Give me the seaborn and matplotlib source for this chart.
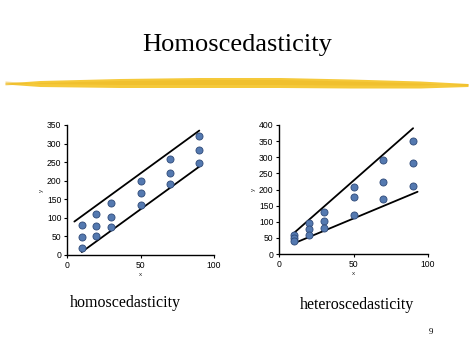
import numpy as np
import pandas as pd
import matplotlib
matplotlib.use("Agg")
import matplotlib.pyplot as plt
import seaborn as sns

# ---- data ----
x_vals = [10, 10, 10, 20, 20, 20, 30, 30, 30, 50, 50, 50, 70, 70, 70, 90, 90, 90]
homo_y = [80, 48, 20, 110, 78, 50, 140, 103, 76, 200, 168, 135, 258, 222, 192, 320, 282, 248]
hetero_y = [58, 50, 40, 95, 78, 58, 130, 102, 82, 208, 176, 122, 290, 222, 172, 350, 282, 210]

homo_upper_x = [5, 90]
homo_upper_y = [90, 335]
homo_lower_x = [10, 90]
homo_lower_y = [8, 238]
hetero_upper_x = [10, 90]
hetero_upper_y = [65, 390]
hetero_lower_x = [10, 93]
hetero_lower_y = [33, 193]

x_ticks = [0, 50, 100]
homo_yticks = [0, 50, 100, 150, 200, 250, 300, 350]
hetero_yticks = [0, 50, 100, 150, 200, 250, 300, 350, 400]

title = "Homoscedasticity"
captions = ["homoscedasticity", "heteroscedasticity"]
page_no = "9"

sns.set_style("white")
plt.rcParams['font.family'] = ['Liberation Sans', 'DejaVu Sans']

fig = plt.figure(figsize=(4.74, 3.55), dpi=100)
fig.patch.set_facecolor("white")

# yellow brush stroke
bx = fig.add_axes([0, 0, 1, 1], zorder=0)
bx.set_xlim(0, 474)
bx.set_ylim(355, 0)
bx.axis("off")
xs = np.array([5, 40, 120, 200, 280, 350, 420, 468])
ytop = np.array([83, 80.5, 78.5, 77.5, 77.5, 79, 81, 83.5])
ybot = np.array([84, 86.5, 87.5, 87.5, 87.5, 88, 88, 86.5])
bx.fill_between(xs, ytop, ybot, color="#F5C93A", lw=0)
bx.fill_between(xs, ytop + 2, ybot - 3, color="#EDB823", lw=0, alpha=0.5)

fig.text(237 / 474, 1 - 45 / 355, title, ha="center", va="center",
         fontsize=19, family="Liberation Serif", color="black")
fig.text(125 / 474, 1 - 303 / 355, captions[0], ha="center", va="center",
         fontsize=11.5, family="Liberation Serif", color="black")
fig.text(357 / 474, 1 - 305 / 355, captions[1], ha="center", va="center",
         fontsize=11.5, family="Liberation Serif", color="black")
fig.text(431 / 474, 1 - 332 / 355, page_no, ha="center", va="center",
         fontsize=6.5, family="Liberation Serif", color="black")

mcolor = "#5479B0"

def panel(rect, ys, ux, uy, lx, ly, yticks, ymax):
    ax = fig.add_axes(rect, zorder=2)
    ax.patch.set_alpha(0)
    df = pd.DataFrame({"x": x_vals, "y": ys})
    sns.lineplot(x=ux, y=uy, ax=ax, color="black", lw=1.3)
    sns.lineplot(x=lx, y=ly, ax=ax, color="black", lw=1.3)
    sns.scatterplot(data=df, x="x", y="y", ax=ax, color=mcolor, s=26,
                    edgecolor="#2F4A78", linewidth=0.6, zorder=3)
    ax.set_xlim(0, 100)
    ax.set_ylim(0, ymax)
    ax.set_xticks(x_ticks)
    ax.set_yticks(yticks)
    ax.tick_params(labelsize=6.2, length=2, width=0.8, pad=2, direction="out",
                   colors="black", left=True, bottom=True)
    for s in ["top", "right"]:
        ax.spines[s].set_visible(False)
    for s in ["left", "bottom"]:
        ax.spines[s].set_color("black")
        ax.spines[s].set_linewidth(1.0)
    ax.set_xlabel("x", fontsize=4.5, labelpad=2)
    ax.set_ylabel("y", fontsize=4.5, labelpad=2)
    return ax

panel([67 / 474, 100 / 355, 147 / 474, 130 / 355], homo_y,
      homo_upper_x, homo_upper_y, homo_lower_x, homo_lower_y, homo_yticks, 350)
panel([279 / 474, 101 / 355, 149 / 474, 129 / 355], hetero_y,
      hetero_upper_x, hetero_upper_y, hetero_lower_x, hetero_lower_y, hetero_yticks, 400)

fig.savefig("out.png", dpi=100, facecolor="white")
